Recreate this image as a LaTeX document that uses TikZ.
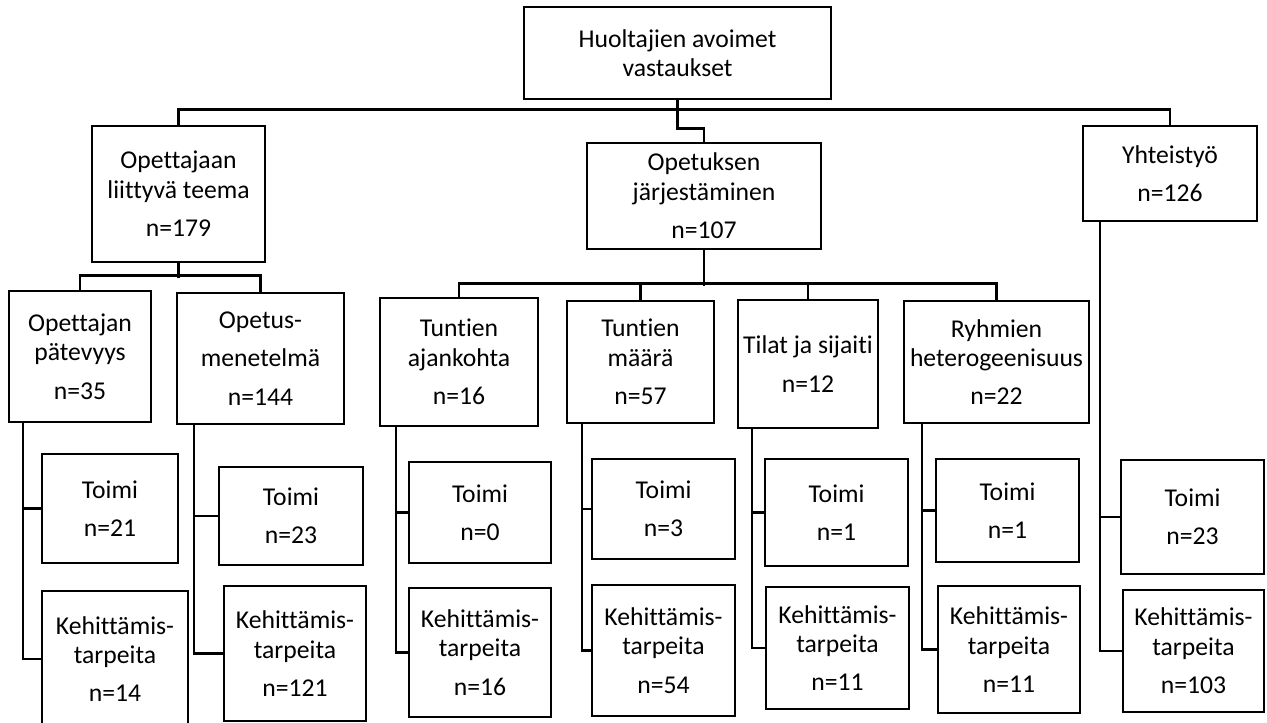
\documentclass[tikz,border=0pt]{standalone}
\usepackage{fontspec}
\setmainfont{Carlito}[Ligatures={NoCommon,NoRare}]
\usepackage{tikz}
\usetikzlibrary{positioning}

\begin{document}
\begin{tikzpicture}[x=0.02cm, y=-0.02cm,
  box/.style={draw, line width=1.5pt, align=center, inner sep=0pt,
    font=\fontsize{14.6}{16.8}\selectfont},
  link/.style={line width=1.5pt}]
%% \draw[help lines] (0,0) grid (1267,723);
\useasboundingbox (0,0) rectangle (1267,723);

%% top levels
\node [box, minimum width=6.14cm, minimum height=1.84cm] (root) at (677.5,53) {Huoltajien avoimet\\vastaukset};
\node [box, minimum width=3.46cm, minimum height=2.72cm] (opettajaan) at (178.5,194) {Opettajaan\\liittyvä teema\\[5pt]n=179};
\node [box, minimum width=4.68cm, minimum height=2.12cm] (opetuksen) at (704,196) {Opetuksen\\järjestäminen\\[5pt]n=107};
\node [box, minimum width=3.48cm, minimum height=1.90cm] (yhteistyo) at (1170,173.5) {Yhteistyö\\[5pt]n=126};

\node [box, minimum width=2.84cm, minimum height=2.62cm] (opettajan) at (80,356.5) {Opettajan\\pätevyys\\[5pt]n=35};
\node [box, minimum width=3.34cm, minimum height=2.62cm] (opetus) at (260.5,358.5) {Opetus-\\[5pt]menetelmä\\[5pt]n=144};
\node [box, minimum width=3.16cm, minimum height=2.56cm] (ajankohta) at (459,362) {Tuntien\\ajankohta\\[5pt]n=16};
\node [box, minimum width=2.94cm, minimum height=2.44cm] (maara) at (640.5,362) {Tuntien\\määrä\\[5pt]n=57};
\node [box, minimum width=2.80cm, minimum height=2.56cm] (tilat) at (808,364) {Tilat ja sijaiti\\[5pt]n=12};
\node [box, minimum width=3.70cm, minimum height=2.44cm] (ryhmien) at (996.5,362) {Ryhmien\\heterogeenisuus\\[5pt]n=22};

%% toimi
\node [box, minimum width=2.72cm, minimum height=2.18cm] (toimi1) at (110,508.5) {Toimi\\[5pt]n=21};
\node [box, minimum width=2.88cm, minimum height=1.96cm] (toimi2) at (291,516) {Toimi\\[5pt]n=23};
\node [box, minimum width=2.84cm, minimum height=2.02cm] (toimi3) at (480,512.5) {Toimi\\[5pt]n=0};
\node [box, minimum width=2.86cm, minimum height=2.00cm] (toimi4) at (663.5,509) {Toimi\\[5pt]n=3};
\node [box, minimum width=2.86cm, minimum height=2.14cm] (toimi5) at (836.5,512.5) {Toimi\\[5pt]n=1};
\node [box, minimum width=2.86cm, minimum height=2.06cm] (toimi6) at (1007.5,510.5) {Toimi\\[5pt]n=1};
\node [box, minimum width=2.86cm, minimum height=2.28cm] (toimi7) at (1192.5,517) {Toimi\\[5pt]n=23};

%% kehittamistarpeita
\node [box, minimum width=2.92cm, minimum height=2.72cm] (keh1) at (115,659) {Kehittämis-\\tarpeita\\[5pt]n=14};
\node [box, minimum width=2.84cm, minimum height=2.70cm] (keh2) at (295,653.5) {Kehittämis-\\tarpeita\\[5pt]n=121};
\node [box, minimum width=2.84cm, minimum height=2.58cm] (keh3) at (480,652.5) {Kehittämis-\\tarpeita\\[5pt]n=16};
\node [box, minimum width=2.86cm, minimum height=2.62cm] (keh4) at (663.5,650.5) {Kehittämis-\\tarpeita\\[5pt]n=54};
\node [box, minimum width=2.86cm, minimum height=2.44cm] (keh5) at (837.5,648) {Kehittämis-\\tarpeita\\[5pt]n=11};
\node [box, minimum width=2.84cm, minimum height=2.54cm] (keh6) at (1009,649.5) {Kehittämis-\\tarpeita\\[5pt]n=11};
\node [box, minimum width=2.82cm, minimum height=2.44cm] (keh7) at (1193.5,651) {Kehittämis-\\tarpeita\\[5pt]n=103};

%% connectors
\draw [link] (root.south) -- ++(0,28) -| (opetuksen.north);
\draw [link] (opettajaan.north) |- ++(0,-15) -| (yhteistyo.north);
\draw [link] (opettajaan.south) -- ++(0,15);
\draw [link] (opettajan.north) |- ++(0,-14) -| (opetus.north);
\draw [link] (opetuksen.south) -- ++(0,36);
\draw [link] (ajankohta.north) |- ++(0,-13) -| (ryhmien.north);
\draw [link] (maara.north) -- ++(0,-16);
\draw [link] (tilat.north) -- ++(0,-15);

\coordinate (t1) at (23,422);
\coordinate (t2) at (194,424);
\coordinate (t3) at (396,426);
\coordinate (t4) at (582,423);
\coordinate (t5) at (752,428);
\coordinate (t6) at (922,423);
\coordinate (t7) at (1100,221);
\draw [link] (t1) |- (toimi1.west) (t1) |- (keh1.west);
\draw [link] (t2) |- (toimi2.west) (t2) |- (keh2.west);
\draw [link] (t3) |- (toimi3.west) (t3) |- (keh3.west);
\draw [link] (t4) |- (toimi4.west) (t4) |- (keh4.west);
\draw [link] (t5) |- (toimi5.west) (t5) |- (keh5.west);
\draw [link] (t6) |- (toimi6.west) (t6) |- (keh6.west);
\draw [link] (t7) |- (toimi7.west) (t7) |- (keh7.west);
\end{tikzpicture}
\end{document}
